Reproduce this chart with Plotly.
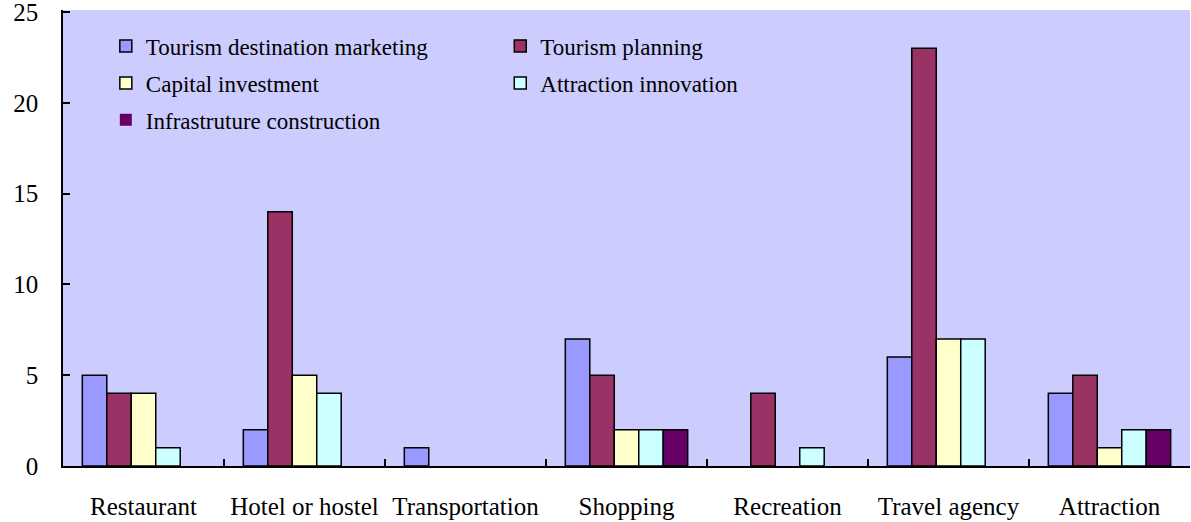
import plotly.graph_objects as go

categories = ["Restaurant", "Hotel or hostel", "Transportation", "Shopping",
              "Recreation", "Travel agency", "Attraction"]

marketing = [5, 2, 1, 7, 0, 6, 4]
planning = [4, 14, 0, 5, 4, 23, 5]
investment = [4, 5, 0, 2, 0, 7, 1]
innovation = [1, 4, 0, 2, 1, 7, 2]
infrastructure = [0, 0, 0, 2, 0, 0, 2]

y_ticks = [0, 5, 10, 15, 20, 25]

series = [
    ("Tourism destination marketing", marketing, "#9999FF", "legend"),
    ("Tourism planning", planning, "#993366", "legend2"),
    ("Capital investment", investment, "#FFFFCC", "legend"),
    ("Attraction innovation", innovation, "#CCFFFF", "legend2"),
    ("Infrastruture construction", infrastructure, "#660066", "legend"),
]

font = "Liberation Serif, Times New Roman, serif"

fig = go.Figure()
for name, vals, color, lg in series:
    # no outline on empty bars, so nothing sits on the axis
    widths = [1.5 if v else 0 for v in vals]
    fig.add_trace(go.Bar(
        x=categories, y=vals, name=name, legend=lg, legendgroup=name,
        marker=dict(color=color, line=dict(color="black", width=widths)),
    ))

legend_style = dict(
    bgcolor="rgba(0,0,0,0)", borderwidth=0, orientation="v",
    xanchor="left", yanchor="top", tracegroupgap=4,
    font=dict(family=font, size=23, color="black"),
)

fig.update_layout(
    width=1191, height=522,
    margin=dict(l=63, r=1, t=10, b=56, autoexpand=False),
    paper_bgcolor="white", plot_bgcolor="#CCCCFF",
    barmode="group", bargap=0.24, bargroupgap=0,
    font=dict(family=font, size=23, color="black"),
    legend=dict(x=0.038, y=0.968, **legend_style),
    legend2=dict(x=0.388, y=0.968, **legend_style),
)
fig.update_xaxes(
    showline=True, linecolor="black", linewidth=1.5,
    ticks="inside", tickson="boundaries", ticklen=7, tickcolor="black",
    tickwidth=1.5, ticklabelstandoff=17, showgrid=False, automargin=False,
    tickfont=dict(family=font, size=25),
)
# top of range a hair above 25 so the 25 tick is not clipped at the edge
fig.update_yaxes(
    range=[0, 25.11], tickvals=y_ticks, showline=True,
    linecolor="black", linewidth=1.5, ticklabeloverflow="allow",
    ticks="inside", ticklen=7, tickcolor="black", tickwidth=1.5,
    ticklabelstandoff=18, showgrid=False, zeroline=False, automargin=False,
    tickfont=dict(family=font, size=25),
)

fig.write_html("out.html", config={"displayModeBar": False},
               post_script="document.body.style.margin='0';")
